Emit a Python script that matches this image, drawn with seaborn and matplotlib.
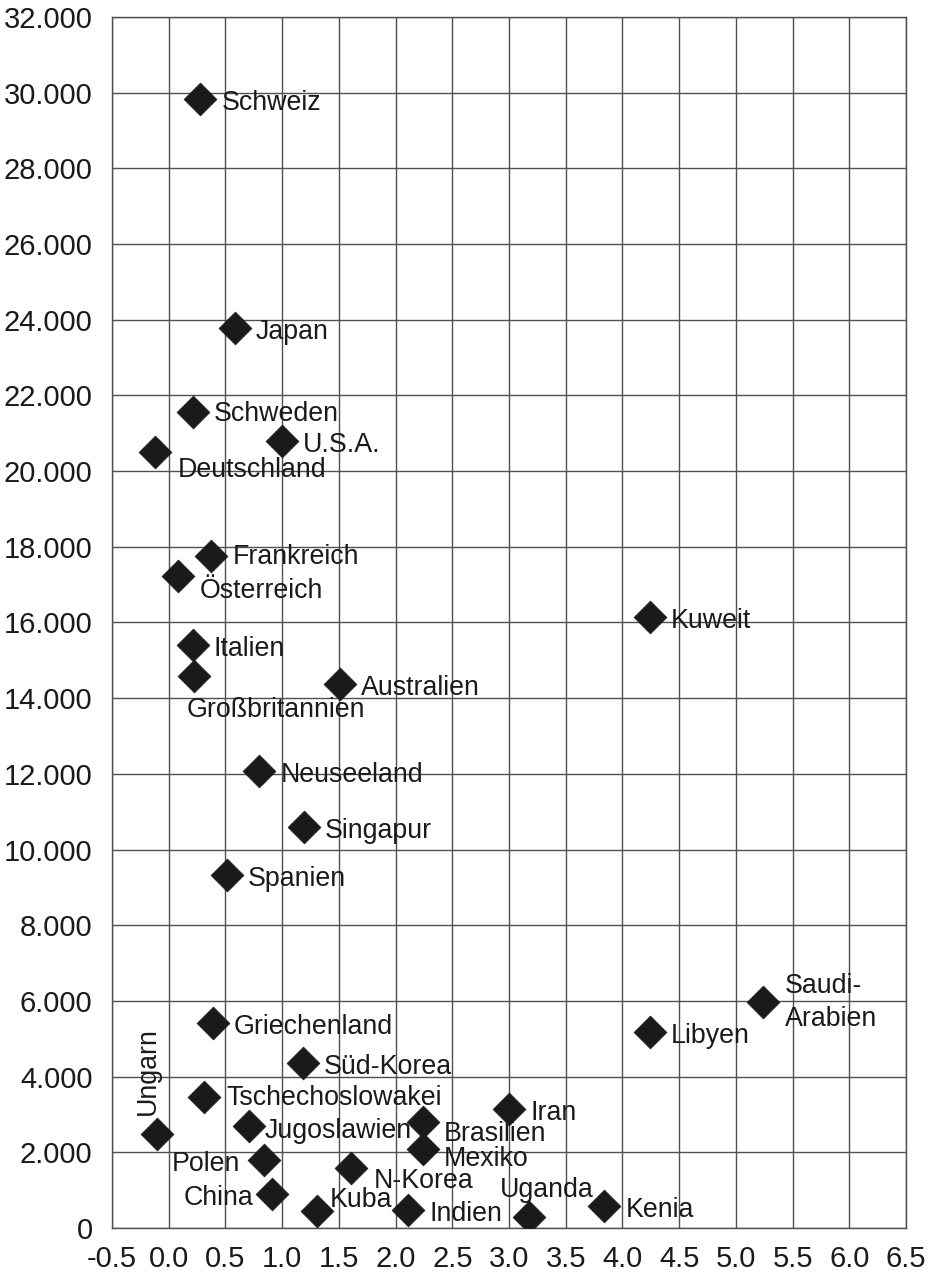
import numpy as np
import pandas as pd
import matplotlib
matplotlib.use("Agg")
import matplotlib.pyplot as plt
import seaborn as sns
from matplotlib.ticker import FuncFormatter, MultipleLocator

# Daten
laender = ['Schweiz', 'Japan', 'Schweden', 'U.S.A.', 'Deutschland', 'Frankreich',
           'Österreich', 'Kuweit', 'Italien', 'Großbritannien', 'Australien',
           'Neuseeland', 'Singapur', 'Spanien', 'Saudi-\nArabien', 'Libyen',
           'Griechenland', 'Süd-Korea', 'Tschechoslowakei', 'Iran', 'Brasilien',
           'Jugoslawien', 'Mexiko', 'Ungarn', 'Polen', 'N-Korea', 'China',
           'Kuba', 'Indien', 'Uganda', 'Kenia']
wachstum = [0.28, 0.58, 0.21, 1.00, -0.12, 0.37,
            0.08, 4.24, 0.21, 0.22, 1.51,
            0.80, 1.19, 0.51, 5.24, 4.24,
            0.39, 1.18, 0.31, 3.00, 2.24,
            0.71, 2.24, -0.10, 0.84, 1.61, 0.91,
            1.31, 2.11, 3.18, 3.84]
einkommen = [29840, 23780, 21560, 20800, 20510, 17760,
             17230, 16150, 15410, 14590, 14380,
             12080, 10600, 9330, 5970, 5180,
             5420, 4360, 3460, 3140, 2800,
             2700, 2090, 2480, 1800, 1590, 900,
             450, 480, 290, 580]

# Beschriftungs-Versatz in Pixeln (dx, dy, ha, rotation)
versatz = {
    'Deutschland': (23, -18, 'left', 0),
    'Österreich': (22, -15, 'left', 0),
    'Großbritannien': (-7, -34, 'left', 0),
    'Saudi-\nArabien': (22, 0, 'left', 0),
    'Brasilien': (21, -12, 'left', 0),
    'Jugoslawien': (15, -5, 'left', 0),
    'Mexiko': (21, -10, 'left', 0),
    'Ungarn': (-10, 63, 'center', 90),
    'Polen': (-24, -4, 'right', 0),
    'N-Korea': (22, -13, 'left', 0),
    'China': (-19, -4, 'right', 0),
    'Kuba': (12, 11, 'left', 0),
    'Uganda': (-30, 27, 'left', 0),
    'Tschechoslowakei': (22, -1, 'left', 0),
    'Frankreich': (22, -1, 'left', 0),
    'Schweden': (21, -2, 'left', 0),
}

df = pd.DataFrame({'land': laender, 'x': wachstum, 'y': einkommen})

sns.set_style('white')
plt.rcParams['font.family'] = ['Liberation Sans', 'DejaVu Sans']

fig = plt.figure(figsize=(9.39, 12.76), dpi=100)
ax = fig.add_axes([0.1193, 0.0376, 0.8456, 0.9491])

gitter = '#505050'
schwarz = '#1a1a1a'

sns.scatterplot(data=df, x='x', y='y', marker='D', s=280, color=schwarz,
                edgecolor=schwarz, linewidth=0.5, ax=ax, zorder=3, legend=False)

for land, x, y in zip(laender, wachstum, einkommen):
    dx, dy, ha, rot = versatz.get(land, (21, -4, 'left', 0))
    ax.annotate(land, (x, y), xytext=(dx, dy), textcoords='offset pixels',
                ha=ha, va='center', rotation=rot, fontsize=19.3, color=schwarz,
                linespacing=1.35, zorder=4)

ax.set_xlim(-0.5, 6.5)
ax.set_ylim(0, 32000)
ax.xaxis.set_major_locator(MultipleLocator(0.5))
ax.yaxis.set_major_locator(MultipleLocator(2000))
ax.xaxis.set_major_formatter(FuncFormatter(lambda v, p: f'{v:.1f}'))
ax.yaxis.set_major_formatter(FuncFormatter(lambda v, p: f'{int(round(v)):,}'.replace(',', '.')))

ax.grid(True, color=gitter, linewidth=1)
for sp in ax.spines.values():
    sp.set_color(gitter)
    sp.set_linewidth(1)
ax.tick_params(axis='both', direction='out', length=7, width=1, color=gitter,
               labelsize=21, labelcolor=schwarz)
ax.tick_params(axis='y', pad=7)
ax.tick_params(axis='x', pad=5)
ax.set_xlabel('')
ax.set_ylabel('')

fig.savefig('out.png', dpi=100)
